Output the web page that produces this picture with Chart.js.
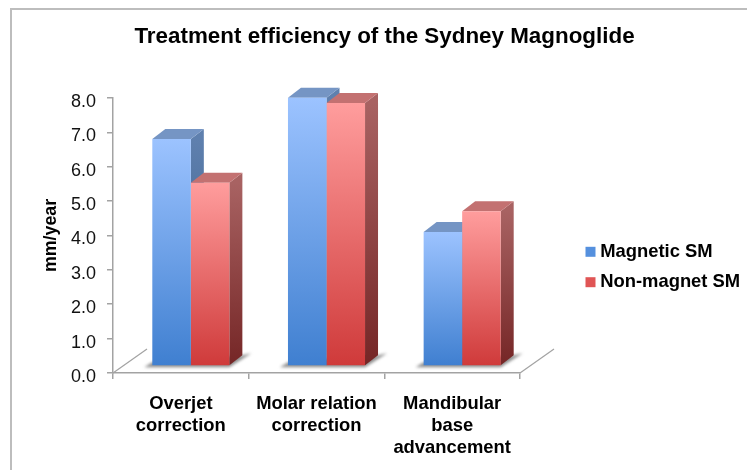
<!DOCTYPE html>
<html>
<head>
<meta charset="utf-8">
<title>Treatment efficiency of the Sydney Magnoglide</title>
<script src="https://cdn.jsdelivr.net/npm/chart.js@4"></script>
<style>
    html, body { margin: 0; padding: 0; background: #fff; }
    #wrap { width: 747px; height: 470px; }
</style>
</head>
<body>
<div id="wrap"><canvas id="chart" width="747" height="470"></canvas></div>
<script>
const categories = [['Overjet', 'correction'], ['Molar relation', 'correction'], ['Mandibular', 'base', 'advancement']];
const seriesNames = ['Magnetic SM', 'Non-magnet SM'];
const magneticValues = [6.6, 7.8, 3.9];
const nonMagnetValues = [5.33, 7.65, 4.5];
const yTicks = [0, 1, 2, 3, 4, 5, 6, 7, 8];

// front / side / top colours for the fake 3D look
const palette = [
    { light: '#9cc3ff', dark: '#3f7fd0', legend: '#5590de', sideTop: '#5f80ae', sideBottom: '#2d5483', top: '#7595c4' },
    { light: '#ff9d9d', dark: '#cf3a3a', legend: '#e05555', sideTop: '#a86262', sideBottom: '#752626', top: '#c37171' }
];
const depth = { x: 13, y: -10 };      // how far the bars go back
const barShift = { x: 10, y: -7 };    // bars stand on the floor, not on the front edge
const floorDepth = { x: 34, y: -24 };
const axisColor = '#a3a3a3';
const fontName = '"Liberation Sans", Arial, sans-serif';

function barGradient(context) {
    const colors = palette[context.datasetIndex];
    if (context.type !== 'data' || !context.parsed || !context.chart.chartArea) return colors.legend;
    const yScale = context.chart.scales.y;
    const top = yScale.getPixelForValue(context.parsed.y);
    const bottom = yScale.getPixelForValue(0);
    if (!Number.isFinite(top) || !Number.isFinite(bottom)) return colors.legend;
    const g = context.chart.ctx.createLinearGradient(0, top, 0, bottom);
    g.addColorStop(0, colors.light);
    g.addColorStop(1, colors.dark);
    return g;
}

function makeDataset(i, values) {
    return {
        label: seriesNames[i],
        data: values,
        backgroundColor: barGradient,
        borderWidth: 0,
        barPercentage: 1,
        categoryPercentage: 0.568
    };
}

const frame = {
    id: 'frame',
    beforeDraw(chart) {
        const ctx = chart.ctx;
        ctx.save();
        ctx.strokeStyle = '#bdbdbd';
        ctx.lineWidth = 2;
        ctx.strokeRect(11, 9, 800, 600);
        ctx.restore();
    },
    afterLayout(chart) {
        // move title and legend to where the picture has them
        chart.titleBlock.left += 11;
        chart.titleBlock.right += 11;
        chart.legend.left += 58;
        chart.legend.right += 58;
        chart.legend.top += 32;
        chart.legend.bottom += 32;
    },
    beforeInit(chart) {
        // keep the plot area fixed, whatever width the legend text has
        const fit = chart.legend.fit;
        chart.legend.fit = function () {
            fit.call(this);
            this.width = 227;
        };
    }
};

const bars3d = {
    id: 'bars3d',
    beforeDatasetsDraw(chart) {
        const ctx = chart.ctx;
        const area = chart.chartArea;

        // floor edges
        ctx.save();
        ctx.strokeStyle = axisColor;
        ctx.lineWidth = 1.2;
        [area.left, area.right].forEach(x => {
            ctx.beginPath();
            ctx.moveTo(x, area.bottom);
            ctx.lineTo(x + floorDepth.x, area.bottom + floorDepth.y);
            ctx.stroke();
        });
        ctx.restore();

        ctx.save();
        ctx.translate(barShift.x, barShift.y);

        // soft shadow on the floor
        chart.data.labels.forEach((label, i) => {
            const a = chart.getDatasetMeta(0).data[i];
            const b = chart.getDatasetMeta(1).data[i];
            const left = a.x - a.width / 2;
            const right = b.x + b.width / 2;
            const base = a.base;
            ctx.save();
            ctx.filter = 'blur(1.5px)';
            ctx.fillStyle = '#8f8f8f';
            ctx.beginPath();
            ctx.moveTo(left - 8, base + 2);
            ctx.lineTo(right, base + 2);
            ctx.lineTo(right + depth.x + 9, base + depth.y - 2);
            ctx.lineTo(right + depth.x, base + depth.y);
            ctx.lineTo(left, base - 3);
            ctx.closePath();
            ctx.fill();
            ctx.restore();
        });

        // sides and tops go under all the front faces
        chart.data.datasets.forEach((ds, d) => {
            const colors = palette[d];
            chart.getDatasetMeta(d).data.forEach(bar => {
                const left = bar.x - bar.width / 2;
                const right = bar.x + bar.width / 2;

                const side = ctx.createLinearGradient(0, bar.y, 0, bar.base);
                side.addColorStop(0, colors.sideTop);
                side.addColorStop(1, colors.sideBottom);
                ctx.fillStyle = side;
                ctx.beginPath();
                ctx.moveTo(right, bar.y);
                ctx.lineTo(right + depth.x, bar.y + depth.y);
                ctx.lineTo(right + depth.x, bar.base + depth.y);
                ctx.lineTo(right, bar.base);
                ctx.closePath();
                ctx.fill();

                ctx.fillStyle = colors.top;
                ctx.beginPath();
                ctx.moveTo(left, bar.y);
                ctx.lineTo(left + depth.x, bar.y + depth.y);
                ctx.lineTo(right + depth.x, bar.y + depth.y);
                ctx.lineTo(right, bar.y);
                ctx.closePath();
                ctx.fill();
            });
        });
        // stays translated for the front faces
    },
    afterDatasetsDraw(chart) {
        chart.ctx.restore();
    }
};

new Chart(document.getElementById('chart').getContext('2d'), {
    type: 'bar',
    data: {
        labels: categories,
        datasets: [makeDataset(0, magneticValues), makeDataset(1, nonMagnetValues)]
    },
    plugins: [frame, bars3d],
    options: {
        responsive: false,
        animation: false,
        layout: { padding: 0 },
        plugins: {
            tooltip: { enabled: false },
            title: {
                display: true,
                text: 'Treatment efficiency of the Sydney Magnoglide',
                color: '#000',
                font: { family: fontName, size: 22.4, weight: '700' },
                padding: { top: 23, bottom: 48 }
            },
            legend: {
                position: 'right',
                labels: {
                    color: '#000',
                    font: { family: fontName, size: 18.4, weight: '700' },
                    usePointStyle: true,
                    pointStyle: 'rect',
                    boxWidth: 1,
                    boxHeight: 10,
                    padding: 12,
                    generateLabels(chart) {
                        const items = Chart.defaults.plugins.legend.labels.generateLabels(chart);
                        items.forEach((item, i) => {
                            item.fillStyle = palette[i].legend;
                            item.strokeStyle = palette[i].legend;
                            item.lineWidth = 0;
                            item.pointStyle = 'rect';
                        });
                        return items;
                    }
                }
            }
        },
        scales: {
            x: {
                afterFit(scale) { scale.height = 97; },
                grid: { drawOnChartArea: false, color: axisColor, lineWidth: 1.5, tickLength: 6 },
                border: { color: axisColor, width: 1.5 },
                ticks: {
                    color: '#000',
                    maxRotation: 0,
                    autoSkip: false,
                    padding: 14,
                    font: { family: fontName, size: 18.4, weight: '700' }
                }
            },
            y: {
                min: yTicks[0],
                max: yTicks[yTicks.length - 1],
                afterFit(scale) { scale.width = 113; },
                afterBuildTicks(scale) { scale.ticks = yTicks.map(v => ({ value: v })); },
                grid: { drawOnChartArea: false, color: axisColor, lineWidth: 1.5, tickLength: 6 },
                border: { color: axisColor, width: 1.5 },
                ticks: {
                    color: '#111',
                    padding: 11,
                    labelOffset: 4,
                    font: { family: fontName, size: 18 },
                    callback: v => v.toFixed(1)
                },
                title: {
                    display: true,
                    text: 'mm/year',
                    color: '#000',
                    font: { family: fontName, size: 17.8, weight: '700' },
                    padding: { top: 40, bottom: 0 }
                }
            }
        }
    }
});
</script>
</body>
</html>
